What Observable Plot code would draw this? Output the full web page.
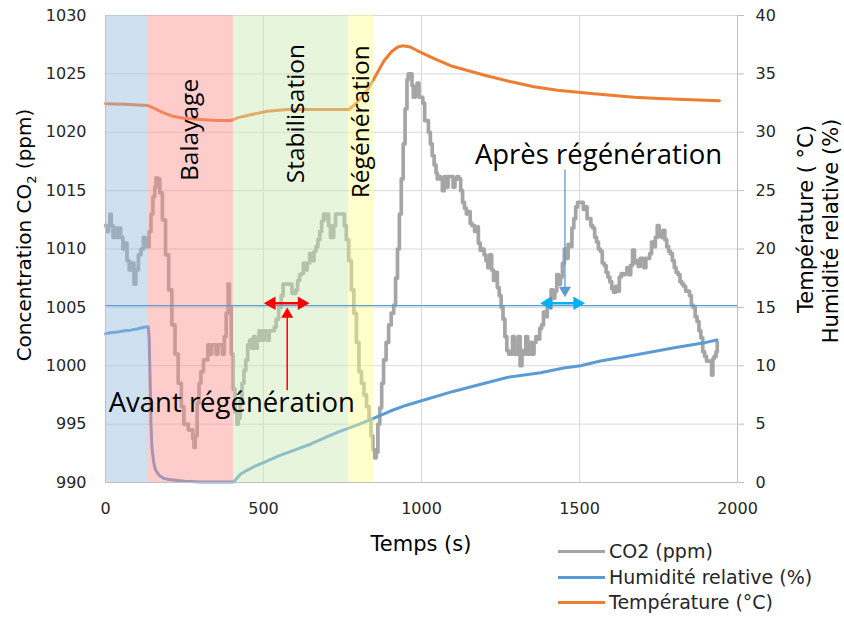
<!DOCTYPE html>
<html><head><meta charset="utf-8">
<script src="https://cdn.jsdelivr.net/npm/d3@7"></script>
<script src="https://cdn.jsdelivr.net/npm/@observablehq/plot@0.6"></script>
<style>
body{margin:0;background:#fff;}
#wrap{position:relative;width:844px;height:621px;}
.leg{position:absolute;left:558px;font-family:"DejaVu Sans";font-size:19px;color:#262626;}
.leg span.l{position:absolute;left:0;width:47px;height:3px;}
.leg span.t{position:absolute;left:51px;white-space:nowrap;line-height:20px;}
</style>
</head><body><div id="wrap"></div>
<script>
// ---- data ----
const xTicks = [0, 500, 1000, 1500, 2000];
const yTicksLeft = [990, 995, 1000, 1005, 1010, 1015, 1020, 1025, 1030];
const yTicksRight = [0, 5, 10, 15, 20, 25, 30, 35, 40];

const co2T = [0,5,10,14,18,24,30,36,42,48,55,62,68,75,82,90,96,104,112,120,126,132,138,144,150,156,160,164,168,172,180,190,200,210,220,230,240,248,256,262,270,276,280,284,290,296,302,310,318,324,330,336,342,350,356,364,370,376,382,388,392,398,404,410,416,420,426,432,438,444,450,456,462,468,474,480,486,492,500,510,518,526,534,540,548,556,562,570,578,584,590,596,602,608,614,620,626,632,638,646,652,660,666,672,678,684,690,696,700,706,712,716,722,728,736,744,750,756,762,770,778,786,794,802,810,818,826,834,840,846,852,856,862,868,874,880,888,896,904,912,918,924,930,936,942,948,954,958,966,970,974,980,986,992,998,1004,1010,1016,1022,1028,1034,1040,1046,1050,1056,1060,1066,1072,1078,1084,1092,1100,1106,1112,1118,1124,1130,1136,1142,1148,1154,1160,1168,1176,1180,1186,1192,1198,1204,1210,1216,1222,1228,1234,1240,1246,1252,1258,1264,1270,1276,1282,1288,1294,1300,1306,1312,1318,1324,1330,1336,1342,1348,1356,1362,1368,1374,1380,1386,1392,1398,1404,1410,1416,1422,1428,1434,1440,1446,1452,1458,1464,1470,1476,1482,1488,1494,1500,1506,1512,1518,1524,1530,1536,1542,1548,1554,1560,1566,1572,1578,1584,1590,1596,1602,1608,1614,1620,1626,1632,1638,1644,1650,1656,1662,1668,1674,1680,1686,1692,1698,1704,1710,1716,1722,1728,1734,1740,1746,1752,1758,1764,1770,1776,1782,1788,1794,1800,1806,1812,1818,1824,1830,1836,1842,1848,1854,1860,1866,1872,1878,1884,1890,1896,1902,1908,1914,1918,1922,1926,1932,1936];
const co2V = [1012,1011.5,1012,1013,1012,1011,1011.8,1011,1011.8,1011,1010,1010.5,1009,1008.2,1008.8,1007,1008.2,1009.5,1010,1011,1010.2,1010.2,1011.5,1013,1014.5,1015.3,1016.1,1015.4,1016,1014.8,1012.5,1009.5,1006.5,1003.5,1001,998.5,996.5,995,995,994.5,994.5,993.8,993,994,996.8,998.5,999.5,1000.5,1000.5,1001.8,1001,1001.8,1001.8,1001,1001.8,1001.8,1001,1002.5,1004.5,1007,1005,1001,998,996,995,995.5,997,998.5,999.6,1000.5,1001.8,1002.2,1001.5,1002.5,1001.5,1002.2,1003,1002.2,1003,1002.2,1003,1003,1003.3,1004,1005,1006,1007,1007,1007,1007,1006.2,1006.2,1006.5,1007.3,1007.8,1007.9,1008.8,1008.2,1008.8,1009.6,1009,1009.8,1010.2,1010.8,1011.5,1012.4,1013,1012.6,1013,1012,1011,1011,1012,1013,1013,1013,1013,1012,1010.8,1009,1006.5,1004.5,1002,999.5,998.5,997.5,996.5,995.5,994,992.8,992.1,992.6,995,996.4,998.5,1000.5,1002,1003.5,1004.5,1005.2,1007.5,1010,1013,1016,1019,1022,1024.5,1025,1025,1024,1023,1023.8,1024.2,1023,1023,1022.5,1021,1021,1020,1019,1018,1017.2,1016.5,1016,1016.2,1016,1015,1016.2,1015.3,1016.2,1016.2,1015.3,1016,1016.2,1016,1015,1014,1013.5,1013,1013.2,1012.2,1012,1011.5,1011.9,1010.5,1009.9,1010,1009.5,1009,1008.4,1009.5,1008.2,1007.3,1008,1006.7,1006,1005,1004,1002.5,1001.3,1001,1001,1002.5,1001,1001,1002.5,1000,1001.3,1001,1002.5,1001,1002,1001,1002,1002.5,1002.3,1003.2,1003.5,1004.6,1004.2,1005.6,1005,1006.5,1005.8,1006.4,1007.8,1007,1007.6,1008.8,1010,1009.2,1010.4,1010.2,1011.8,1012.6,1013.6,1014,1014,1014,1013.4,1013.6,1012.6,1012.6,1012,1011.8,1011,1010.6,1010,1009.8,1008.8,1008.6,1008,1007.6,1007.2,1006.6,1006.3,1006.8,1006.4,1007.6,1007.9,1007.8,1007.9,1008.4,1007.8,1008.6,1009.9,1008.8,1009,1008.5,1009.2,1009.2,1008.4,1009.2,1009.2,1009.6,1010.6,1010.2,1011,1012,1011.2,1011,1011.6,1010.8,1010.2,1009.8,1009.6,1009,1008.4,1008,1007.8,1007.2,1007,1006.8,1006.4,1006.4,1006,1005.2,1005,1004.2,1003.8,1003,1002.4,1001.2,1000.8,1000.4,1000.4,1000.4,999.2,1000.6,1000.8,1001.2,1002];

const humT = [0,20,40,60,80,100,120,135,138,141,144,147,152,158,170,185,200,250,300,350,405,415,427,445,470,500,550,600,650,700,744,800,848,900,950,1000,1100,1200,1271,1377,1450,1503,1566,1630,1693,1800,1900,1935];
const humV = [12.75,12.85,12.9,13.0,13.05,13.15,13.3,13.35,12.5,9,5,3,1.8,1.1,0.6,0.35,0.25,0.1,0.05,0.05,0.05,0.35,0.7,1.0,1.35,1.7,2.3,2.8,3.3,3.9,4.4,4.95,5.5,6.1,6.6,7.0,7.8,8.5,9.0,9.4,9.8,10.0,10.4,10.7,11.0,11.55,12.0,12.2];

const tempT = [0,60,132,150,180,210,248,301,350,396,420,459,512,575,650,700,770,790,810,828,850,881,905,925,940,965,986,1040,1092,1197,1280,1356,1430,1504,1590,1673,1750,1832,1943];
const tempV = [32.45,32.4,32.3,32.1,31.7,31.4,31.2,31.1,31.0,31.0,31.25,31.5,31.8,31.95,31.95,31.95,31.95,32.4,33.0,33.6,34.6,36.1,36.9,37.3,37.4,37.3,37.0,36.3,35.7,34.9,34.35,33.9,33.6,33.4,33.2,33.0,32.9,32.8,32.7];

const phaseNames = ["Initial", "Balayage", "Stabilisation", "Régénération"];
const phaseStart = [0, 136, 405, 769];
const phaseEnd = [136, 405, 769, 848];
const refCO2 = 1005.15;

const seriesNames = ["CO2 (ppm)", "Humidité relative (%)", "Température (°C)"];
const seriesColors = ["#A5A5A5", "#5B9BD5", "#ED7D31"];

// ---- build tables ----
const co2 = co2T.map((t, i) => ({t, v: co2V[i]}));
const offset = 990; // right axis 0..40 mapped onto 990..1030
const hum = humT.map((t, i) => ({t, v: humV[i] + offset}));
const temp = tempT.map((t, i) => ({t, v: tempV[i] + offset}));
const phases = phaseNames.map((n, i) => ({n, x1: phaseStart[i], x2: phaseEnd[i]}));
const phaseFill = ["#94BAE0", "#FF8E8E", "#CCE9B4", "#FFFF8E"];

const FONT = "DejaVu Sans";
const ANN = "Open Sans";
const fmt = d => String(d);

const plot = Plot.plot({
  width: 844, height: 621,
  marginLeft: 105, marginRight: 107, marginTop: 15, marginBottom: 139,
  style: {fontFamily: FONT, fontSize: "16px", color: "#262626", background: "#fff", overflow: "visible"},
  x: {domain: [0, 2000]},
  y: {domain: [990, 1030]},
  marks: [
    Plot.gridY(yTicksLeft, {stroke: "#D9D9D9", strokeOpacity: 1}),
    Plot.gridX(xTicks, {stroke: "#D9D9D9", strokeOpacity: 1}),
    Plot.line(co2, {x: "t", y: "v", stroke: seriesColors[0], strokeWidth: 3.7, curve: "step-after"}),
    Plot.line(hum, {x: "t", y: "v", stroke: seriesColors[1], strokeWidth: 3}),
    Plot.line(temp, {x: "t", y: "v", stroke: seriesColors[2], strokeWidth: 3}),
    Plot.rectX(phases, {x1: "x1", x2: "x2", y1: 990, y2: 1030, fill: (d, i) => phaseFill[i], fillOpacity: 0.45}),
    Plot.ruleY([refCO2], {x1: 0, x2: 2000, stroke: "#5B9BD5", strokeWidth: 1.2}),
    Plot.ruleX([0], {stroke: "#BFBFBF"}),
    Plot.ruleX([2000], {stroke: "#BFBFBF"}),
    Plot.ruleY([990], {stroke: "#BFBFBF"}),
    Plot.axisY(yTicksLeft, {anchor: "left", tickSize: 0, tickPadding: 19, label: null, fill: "#262626", tickFormat: fmt}),
    Plot.axisY(yTicksLeft, {anchor: "right", tickSize: 6, tickPadding: 12, label: null, stroke: "#BFBFBF", fill: "#262626", tickFormat: d => String(d - offset)}),
    Plot.axisX(xTicks, {anchor: "bottom", tickSize: 0, tickPadding: 20, label: null, fill: "#262626", tickFormat: fmt}),
    // phase labels
    Plot.text(["Balayage"], {x: 269, y: 1020.2, text: d => d, rotate: -90, fontSize: 24.5, fontFamily: ANN, fill: "#000"}),
    Plot.text(["Stabilisation"], {x: 602, y: 1021.6, text: d => d, rotate: -90, fontSize: 24.5, fontFamily: ANN, fill: "#000"}),
    Plot.text(["Régénération"], {x: 808, y: 1020.9, text: d => d, rotate: -90, fontSize: 24.5, fontFamily: ANN, fill: "#000"}),
    Plot.text(["Après régénération"], {x: 1169, y: 1017.24, text: d => d, textAnchor: "start", lineAnchor: "bottom", fontSize: 27.5, fontFamily: ANN, fill: "#000"}),
    Plot.text(["Avant régénération"], {x: 10, y: 996.08, text: d => d, textAnchor: "start", lineAnchor: "bottom", fontSize: 27.5, fontFamily: ANN, fill: "#000"}),
    // red arrows
    Plot.link([0], {x1: 520, x2: 627, y1: 1005.36, y2: 1005.36, stroke: "#FF0000", strokeWidth: 2.5}),
    Plot.dot([0], {x: 503.6, y: 1005.36, symbol: "triangle", r: 5, rotate: -90, dx: 7, fill: "#FF0000", stroke: "none"}),
    Plot.dot([0], {x: 643, y: 1005.36, symbol: "triangle", r: 5, rotate: 90, dx: -7, fill: "#FF0000", stroke: "none"}),
    Plot.link([0], {x1: 575, x2: 575, y1: 997.9, y2: 1004.2, stroke: "#FF0000", strokeWidth: 1.5}),
    Plot.dot([0], {x: 575, y: 1005.0, symbol: "triangle", r: 4.5, rotate: 0, dy: 7, fill: "#FF0000", stroke: "none"}),
    // blue arrows
    Plot.link([0], {x1: 1395, x2: 1498, y1: 1005.36, y2: 1005.36, stroke: "#00B0F0", strokeWidth: 2.5}),
    Plot.dot([0], {x: 1378, y: 1005.36, symbol: "triangle", r: 5, rotate: -90, dx: 7, fill: "#00B0F0", stroke: "none"}),
    Plot.dot([0], {x: 1515, y: 1005.36, symbol: "triangle", r: 5, rotate: 90, dx: -7, fill: "#00B0F0", stroke: "none"}),
    Plot.link([0], {x1: 1454, x2: 1454, y1: 1016.8, y2: 1006.6, stroke: "#5B9BD5", strokeWidth: 1.3}),
    Plot.dot([0], {x: 1454, y: 1005.87, symbol: "triangle", r: 4.5, rotate: 180, dy: -7, fill: "#5B9BD5", stroke: "none"})
  ]
});

const wrap = document.getElementById("wrap");
wrap.appendChild(plot);

// axis titles
const svg = d3.select(plot);
const lt = svg.append("text").attr("transform", "translate(31,235) rotate(-90)")
  .attr("text-anchor", "middle").attr("font-family", FONT).attr("font-size", 20).attr("fill", "#000");
lt.append("tspan").text("Concentration CO");
lt.append("tspan").text("2").attr("font-size", 13).attr("dy", 5);
lt.append("tspan").text(" (ppm)").attr("dy", -5);

svg.append("text").attr("transform", "translate(813,219) rotate(-90)")
  .attr("text-anchor", "middle").attr("font-family", FONT).attr("font-size", 21).attr("fill", "#000")
  .text("Température ( °C)");
svg.append("text").attr("transform", "translate(838,231) rotate(-90)")
  .attr("text-anchor", "middle").attr("font-family", FONT).attr("font-size", 21).attr("fill", "#000")
  .text("Humidité relative (%)");
svg.append("text").attr("x", 421).attr("y", 551)
  .attr("text-anchor", "middle").attr("font-family", FONT).attr("font-size", 21).attr("fill", "#000")
  .text("Temps (s)");

// legend
const rowsY = [551, 577, 602];
seriesNames.forEach((name, i) => {
  const row = document.createElement("div");
  row.className = "leg";
  row.style.top = (rowsY[i] - 10) + "px";
  row.innerHTML = `<span class="l" style="top:9px;background:${seriesColors[i]}"></span><span class="t">${name}</span>`;
  wrap.appendChild(row);
});
</script>
</body></html>
